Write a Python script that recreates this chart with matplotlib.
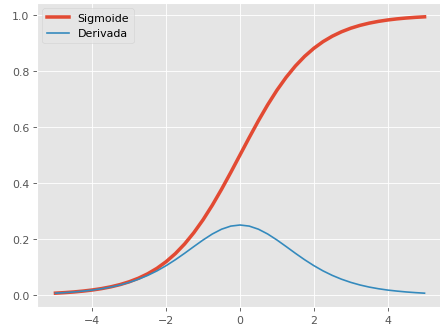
import matplotlib
matplotlib.use("Agg")
import matplotlib.pyplot as plt

plt.style.use("ggplot")

x = [-5.0, -4.75, -4.5, -4.25, -4.0, -3.75, -3.5, -3.25, -3.0, -2.75, -2.5, -2.25,
     -2.0, -1.75, -1.5, -1.25, -1.0, -0.75, -0.5, -0.25, 0.0, 0.25, 0.5, 0.75,
     1.0, 1.25, 1.5, 1.75, 2.0, 2.25, 2.5, 2.75, 3.0, 3.25, 3.5, 3.75, 4.0,
     4.25, 4.5, 4.75, 5.0]

sigmoide = [0.0067, 0.0086, 0.0110, 0.0141, 0.0180, 0.0230, 0.0293, 0.0373, 0.0474,
            0.0601, 0.0759, 0.0953, 0.1192, 0.1480, 0.1824, 0.2227, 0.2689, 0.3208,
            0.3775, 0.4378, 0.5000, 0.5622, 0.6225, 0.6792, 0.7311, 0.7773, 0.8176,
            0.8520, 0.8808, 0.9047, 0.9241, 0.9399, 0.9526, 0.9627, 0.9707, 0.9770,
            0.9820, 0.9859, 0.9890, 0.9914, 0.9933]

derivada = [0.0066, 0.0086, 0.0110, 0.0141, 0.0177, 0.0225, 0.0284, 0.0359, 0.0452,
            0.0565, 0.0701, 0.0862, 0.1050, 0.1261, 0.1491, 0.1731, 0.1966, 0.2179,
            0.2350, 0.2461, 0.2500, 0.2461, 0.2350, 0.2179, 0.1966, 0.1731, 0.1491,
            0.1261, 0.1050, 0.0862, 0.0701, 0.0565, 0.0452, 0.0359, 0.0284, 0.0225,
            0.0177, 0.0141, 0.0110, 0.0086, 0.0066]

DPI = 79
fig = plt.figure(figsize=(440 / DPI, 336 / DPI), dpi=DPI)
ax = fig.add_axes([37 / 440, (336 - 308) / 336, 406 / 440, (308 - 4) / 336])

ax.plot(x, sigmoide, color="#E24A33", linewidth=3.2, label="Sigmoide")
ax.plot(x, derivada, color="#348ABD", linewidth=1.5, label="Derivada")
ax.set_xlim(-5.5, 5.5)
ax.set_xticks([-4, -2, 0, 2, 4])
ax.set_xticklabels(["\u22124", "\u22122", "0", "2", "4"])
ax.set_yticks([0.0, 0.2, 0.4, 0.6, 0.8, 1.0])
ax.legend(loc="upper left")

fig.savefig("out.png", dpi=DPI)
